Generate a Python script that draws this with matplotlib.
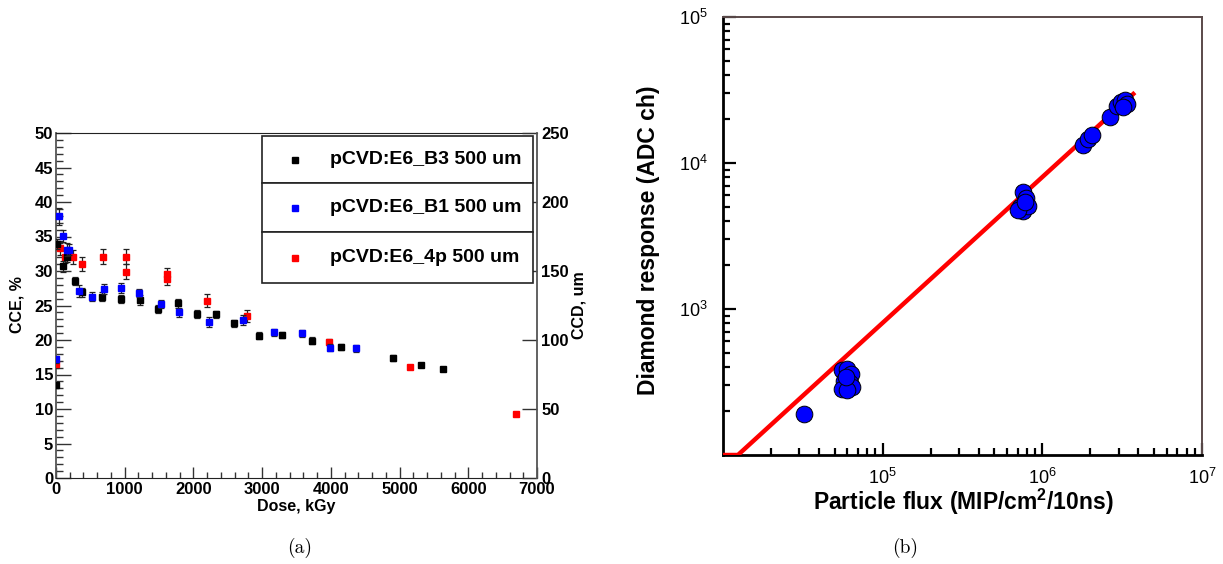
import matplotlib
matplotlib.use("Agg")
import matplotlib.pyplot as plt
from matplotlib.patches import Rectangle
from matplotlib.lines import Line2D
from matplotlib.ticker import MultipleLocator, FixedLocator, NullFormatter, LogLocator

plt.rcParams['font.family'] = ['Liberation Sans', 'DejaVu Sans']
plt.rcParams['mathtext.fontset'] = 'custom'
plt.rcParams['mathtext.rm'] = 'Liberation Sans'
plt.rcParams['mathtext.it'] = 'Liberation Sans:italic'
plt.rcParams['mathtext.bf'] = 'Liberation Sans:bold'

# ---------------- data: panel (a) ----------------
series_names = ["pCVD:E6_B3 500 um", "pCVD:E6_B1 500 um", "pCVD:E6_4p 500 um"]
series_colors = ["#000000", "#0000ff", "#ff0000"]

b3_dose = [0, 19, 97, 165, 277, 383, 674, 946, 1222, 1489, 1780, 2057, 2329, 2595,
           2959, 3284, 3730, 4148, 4909, 5312, 5637]
b3_cce = [13.5, 33.9, 30.7, 32.1, 28.6, 26.9, 26.3, 25.9, 25.8, 24.5, 25.3, 23.8, 23.7,
          22.4, 20.6, 20.7, 19.9, 19.0, 17.4, 16.4, 15.8]
b3_err = [0.4, 0.7, 0.8, 0.8, 0.6, 0.6, 0.6, 0.6, 0.7, 0.6, 0.6, 0.6, 0.5, 0.5, 0.5,
          0.4, 0.5, 0.4, 0.4, 0.3, 0.3]

b1_dose = [0, 48, 107, 155, 194, 340, 519, 703, 951, 1213, 1533, 1795, 2227, 2717,
           3173, 3576, 3988, 4362]
b1_cce = [17.2, 37.9, 35.1, 33.1, 33.1, 27.1, 26.3, 27.4, 27.5, 26.8, 25.2, 24.0, 22.6,
          22.9, 21.1, 21.0, 18.9, 18.8]
b1_err = [0.5, 1.2, 0.9, 0.9, 0.8, 0.8, 0.7, 0.7, 0.7, 0.6, 0.6, 0.7, 0.7, 0.7, 0.5,
          0.5, 0.5, 0.5]

p4_dose = [0, 58, 131, 252, 374, 684, 1014, 1014, 1611, 1611, 2202, 2784, 3973, 5152, 6690]
p4_cce = [16.5, 33.3, 32.1, 32.0, 31.0, 32.1, 32.1, 29.9, 29.5, 28.9, 25.7, 23.5, 19.7,
          16.1, 9.3]
p4_err = [0.5, 1.0, 1.0, 1.0, 1.0, 1.1, 1.1, 1.1, 1.0, 1.0, 0.9, 0.9, 0.4, 0.3, 0.2]

xticks_a = [0, 1000, 2000, 3000, 4000, 5000, 6000, 7000]
yticks_a = [0, 5, 10, 15, 20, 25, 30, 35, 40, 45, 50]
yticks_ccd = [0, 50, 100, 150, 200, 250]

# ---------------- data: panel (b) ----------------
flux = [3.2e4,
        5.6e4, 6.0e4, 6.3e4, 5.7e4, 6.2e4, 5.6e4, 6.4e4, 6.0e4, 5.9e4,
        7.6e5, 7.9e5, 7.2e5, 7.6e5, 8.1e5, 7.0e5, 7.8e5,
        1.80e6, 1.92e6, 2.05e6,
        2.65e6,
        2.95e6, 3.1e6, 3.3e6, 3.4e6, 3.2e6]
response = [190,
            380, 390, 360, 320, 310, 285, 290, 280, 340,
            6.3e3, 5.8e3, 5.0e3, 4.7e3, 5.1e3, 4.8e3, 5.4e3,
            1.33e4, 1.45e4, 1.56e4,
            2.07e4,
            2.45e4, 2.6e4, 2.7e4, 2.55e4, 2.4e4]
fit_flux = [1.0e4, 1.24e4, 3.8e6]
fit_resp = [100, 100, 30400]

W, H = 1223, 564
fig = plt.figure(figsize=(W / 100, H / 100), dpi=100)


def ftext(x, y, s, **kw):
    return fig.text(x / W, 1 - y / H, s, **kw)


# ================= panel (a) =================
ax1 = fig.add_axes([56 / W, (H - 478) / H, 481 / W, 345 / H])
ax1.set_xlim(0, 7000)
ax1.set_ylim(0, 50)
for d, c, e, col, z in [(p4_dose, p4_cce, p4_err, series_colors[2], 3),
                        (b3_dose, b3_cce, b3_err, series_colors[0], 4),
                        (b1_dose, b1_cce, b1_err, series_colors[1], 5)]:
    ax1.errorbar(d, c, yerr=e, fmt='s', color=col, ms=5, mec=col,
                 ecolor='#222222', elinewidth=0.9, capsize=2.2, capthick=0.9, zorder=z)

ax1.xaxis.set_major_locator(FixedLocator(xticks_a))
ax1.xaxis.set_minor_locator(MultipleLocator(200))
ax1.yaxis.set_major_locator(FixedLocator(yticks_a))
ax1.yaxis.set_minor_locator(MultipleLocator(1))
ax1.tick_params(axis='both', which='both', direction='in', top=False, right=False,
                labelsize=12, color='#333333')
ax1.tick_params(axis='x', which='major', length=8, width=1.0, pad=3)
ax1.tick_params(axis='x', which='minor', length=4, width=1.0)
ax1.tick_params(axis='y', which='major', length=11, width=1.0, pad=2)
ax1.tick_params(axis='y', which='minor', length=5, width=1.0)
for lab in ax1.get_xticklabels() + ax1.get_yticklabels():
    lab.set_fontweight('bold')
ax1.spines['left'].set_color('#555555')
ax1.spines['left'].set_linewidth(1.3)
ax1.spines['bottom'].set_color('#222222')
ax1.spines['top'].set_color('#222222')
ax1.spines['right'].set_visible(False)

ax2 = ax1.twinx()
ax2.set_ylim(0, 250)
ax2.yaxis.set_major_locator(FixedLocator(yticks_ccd))
ax2.tick_params(axis='y', which='major', direction='in', length=11, width=1.0,
                labelsize=12, pad=3, color='#333333')
for lab in ax2.get_yticklabels():
    lab.set_fontweight('bold')
for sp in ['left', 'top', 'bottom']:
    ax2.spines[sp].set_visible(False)
ax2.spines['right'].set_color('#555555')
ax2.spines['right'].set_linewidth(1.3)

ftext(17, 305, "CCE, %", rotation=90, ha='center', va='center', fontsize=11.5,
      fontweight='bold')
ftext(579, 305, "CCD, um", rotation=90, ha='center', va='center', fontsize=11.5,
      fontweight='bold')
ftext(296, 507, "Dose, kGy", ha='center', va='center', fontsize=11.5, fontweight='bold')

# legend box (ROOT style)
lx0, lx1 = 262, 533
rows = [(136, 183), (183, 232), (232, 283)]
for (ya, yb), name, col in zip(rows, series_names, series_colors):
    fig.patches.append(Rectangle((lx0 / W, 1 - yb / H), (lx1 - lx0) / W, (yb - ya) / H,
                                 transform=fig.transFigure, facecolor='white',
                                 edgecolor='#222222', linewidth=1.2, zorder=10))
    yc = (ya + yb) / 2
    fig.lines.append(Line2D([295 / W], [1 - yc / H], transform=fig.transFigure,
                            marker='s', ms=4, color=col, zorder=11))
    ftext(330, yc, name, ha='left', va='center', fontsize=14, fontweight='bold',
          zorder=12)

ftext(300, 548, "(a)", ha='center', va='center', fontsize=14, family='cmr10')

# ================= panel (b) =================
ax3 = fig.add_axes([723 / W, (H - 455) / H, 479 / W, 438 / H])
ax3.set_xscale('log')
ax3.set_yscale('log')
ax3.set_xlim(1e4, 1e7)
ax3.set_ylim(1e2, 1e5)
ax3.plot(fit_flux, fit_resp, color='#ff0000', lw=3.2, solid_capstyle='butt', zorder=3)
ax3.plot(flux, response, 'o', ms=12, mfc='#0000ff', mec='black', mew=0.7,
         ls='none', zorder=4)

ax3.xaxis.set_major_locator(FixedLocator([1e5, 1e6, 1e7]))
ax3.xaxis.set_major_formatter(matplotlib.ticker.FixedFormatter(
    [r'$\mathregular{10^{5}}$', r'$\mathregular{10^{6}}$', r'$\mathregular{10^{7}}$']))
ax3.yaxis.set_major_locator(FixedLocator([1e3, 1e4, 1e5]))
ax3.yaxis.set_major_formatter(matplotlib.ticker.FixedFormatter(
    [r'$\mathregular{10^{3}}$', r'$\mathregular{10^{4}}$', r'$\mathregular{10^{5}}$']))
ax3.xaxis.set_minor_locator(LogLocator(base=10, subs=range(2, 10), numticks=20))
ax3.yaxis.set_minor_locator(LogLocator(base=10, subs=range(2, 10), numticks=20))
ax3.xaxis.set_minor_formatter(NullFormatter())
ax3.yaxis.set_minor_formatter(NullFormatter())
ax3.tick_params(axis='both', which='both', direction='in', top=False, right=False,
                labelsize=13, color='black')
ax3.tick_params(axis='y', which='major', length=9, width=1.6, pad=11)
ax3.tick_params(axis='x', which='major', length=9, width=1.6, pad=9)
ax3.tick_params(axis='both', which='minor', length=5, width=1.6)
for sp in ['left', 'bottom']:
    ax3.spines[sp].set_linewidth(2.0)
    ax3.spines[sp].set_color('black')
for sp in ['top', 'right']:
    ax3.spines[sp].set_linewidth(1.4)
    ax3.spines[sp].set_color('#5a4a4a')

ftext(649, 240, "Diamond response (ADC ch)", rotation=90, ha='center', va='center',
      fontsize=16.5, fontweight='bold')
ftext(963, 502, r"Particle flux (MIP/cm$\mathbf{^{2}}$/10ns)", ha='center',
      va='center', fontsize=16.5, fontweight='bold')
ftext(905, 548, "(b)", ha='center', va='center', fontsize=14, family='cmr10')

fig.savefig("out.png", dpi=100)
